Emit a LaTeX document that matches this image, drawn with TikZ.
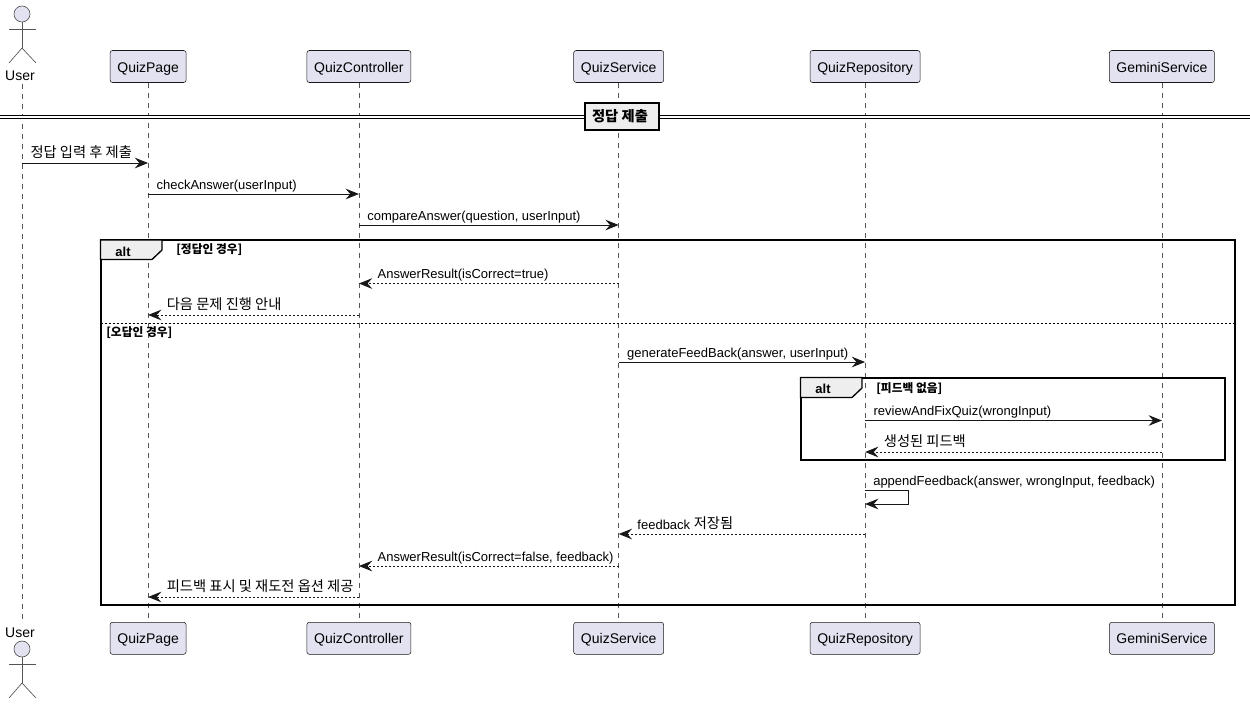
\documentclass[tikz,border=0pt]{standalone}
\usepackage{fontspec}
\setmainfont{Liberation Sans}
\newfontfamily\kr{Noto Sans CJK KR}
\newcommand{\krt}[1]{\raisebox{0.4pt}{\kr\fontsize{10.7}{12}\selectfont #1}}
\usetikzlibrary{arrows.meta,positioning}
\definecolor{partfill}{HTML}{E2E2F0}
\definecolor{partline}{HTML}{181818}
\definecolor{tabfill}{HTML}{EEEEEE}
\definecolor{lifecol}{HTML}{555555}
\tikzset{
participant/.style={
    rectangle,
    draw=partline,
    fill=partfill,
    rounded corners=1.8pt,
    line width=0.4pt,
    minimum height=24pt,
    inner sep=0pt,
    text height=8.4pt,
    text depth=0pt,
    font=\fontsize{10.5}{12}\selectfont
},
actorlabel/.style={
    inner sep=0pt,
    font=\fontsize{10.5}{12}\selectfont
},
actorline/.style={
    draw=lifecol,
    line width=0.5pt
},
lifeline/.style={
    draw=lifecol,
    line width=0.4pt,
    dash pattern=on 3.75pt off 3.75pt
},
msg/.style={
    draw=partline,
    line width=0.75pt,
    -{Stealth[length=10pt,width=8pt,inset=3.5pt]}
},
reply/.style={
    msg,
    dash pattern=on 1.5pt off 1.5pt
},
fwdtext/.style={
    pos=0,
    anchor=base west,
    inner sep=0pt,
    xshift=6pt,
    yshift=3.6pt,
    font=\fontsize{9.75}{12}\selectfont
},
backtext/.style={
    fwdtext,
    pos=1,
    xshift=7.7pt
},
frameline/.style={
    draw=black,
    line width=1.5pt
},
frametab/.style={
    draw=black,
    fill=tabfill,
    line width=1pt
},
altlabel/.style={
    inner sep=0pt,
    font=\bfseries\fontsize{9.75}{12}\selectfont
},
guard/.style={
    anchor=west,
    inner sep=0pt,
    font=\kr\bfseries\fontsize{8.8}{10}\selectfont
},
divider/.style={
    rectangle,
    draw=black,
    fill=tabfill,
    line width=1.5pt,
    minimum width=55pt,
    minimum height=20pt,
    inner sep=0pt,
    font=\kr\bfseries\fontsize{10.7}{12}\selectfont
}
}

\begin{document}
\begin{tikzpicture}[x=0.75pt,y=-0.75pt]
\useasboundingbox (0,0) rectangle (1250,704);

% participants, top and bottom
\node [actorlabel] (userTop) at (20,75.7) {User};
\node [actorlabel] (userBot) at (20,632.7) {User};
\node [participant,minimum width=57pt] (pageTop) at (148.1,66.5) {QuizPage};
\node [participant,minimum width=78pt] (ctrlTop) at (358.9,66.5) {QuizController};
\node [participant,minimum width=67.5pt] (svcTop) at (618.7,66.5) {QuizService};
\node [participant,minimum width=82.5pt] (repoTop) at (865.1,66.5) {QuizRepository};
\node [participant,minimum width=78.75pt] (gemTop) at (1161.9,66.5) {GeminiService};
\node [participant,minimum width=57pt] (pageBot) at (148.1,638.3) {QuizPage};
\node [participant,minimum width=78pt] (ctrlBot) at (358.9,638.3) {QuizController};
\node [participant,minimum width=67.5pt] (svcBot) at (618.7,638.3) {QuizService};
\node [participant,minimum width=82.5pt] (repoBot) at (865.1,638.3) {QuizRepository};
\node [participant,minimum width=78.75pt] (gemBot) at (1161.9,638.3) {GeminiService};
\coordinate (userHead) at (22,84);
\coordinate (userFoot) at (22,622);

% actors
\foreach \hy in {14,649}{
    \draw [actorline,fill=partfill] (22,\hy) circle [radius=8];
    \draw [actorline] (22,\hy+8) -- (22,\hy+34) (9,\hy+15) -- (36,\hy+15);
    \draw [actorline] (9,\hy+49) -- (22,\hy+34) -- (36,\hy+49);
}

% lifelines
\path [lifeline] (userHead) edge (userFoot);
\path [lifeline] (pageTop) edge (pageBot);
\path [lifeline] (ctrlTop) edge (ctrlBot);
\path [lifeline] (svcTop) edge (svcBot);
\path [lifeline] (repoTop) edge (repoBot);
\path [lifeline] (gemTop) edge (gemBot);

% divider
\coordinate (sepL) at (0,116.5);
\coordinate (sepR) at (1250,116.5);
\draw [black,line width=0.75pt,double distance=1.5pt] (sepL) -- (sepR);
\node [divider] (sepBox) at (622,116.5) {\hspace*{-3pt}정답 제출};

% outer alt
\draw [frameline] (100.5,240) rectangle (1234.5,605);
\draw [frametab] (100.5,240) -- (162,240) -- (162,250) -- (152,259.5) -- (100.5,259.5) -- cycle;
\node [altlabel] (altOuter) at (123,251.5) {alt};
\node [guard] (guardOk) at (176,250) {[정답인 경우]};
\coordinate (elseL) at (100.5,323);
\coordinate (elseR) at (1234.5,323);
\draw [black,line width=0.6pt,dash pattern=on 1.5pt off 1.5pt] (elseL) -- (elseR);
\node [guard] (guardNo) at (106,333) {[오답인 경우]};

% inner alt
\draw [frameline] (800.5,377.5) rectangle (1225,460);
\draw [frametab] (800.5,377.5) -- (862,377.5) -- (862,388) -- (852,397.5) -- (800.5,397.5) -- cycle;
\node [altlabel] (altInner) at (823,389) {alt};
\node [guard] (guardFb) at (876,389) {[피드백 없음]};

% messages
\coordinate (y1) at (0,163);
\coordinate (y2) at (0,194);
\coordinate (y3) at (0,225);
\coordinate (y4) at (0,283.5);
\coordinate (y5) at (0,315);
\coordinate (y6) at (0,362);
\coordinate (y7) at (0,420.5);
\coordinate (y8) at (0,452);
\coordinate (y9) at (0,534);
\coordinate (y10) at (0,566);
\coordinate (y11) at (0,597);

\draw [msg] (userHead |- y1) -- (pageTop |- y1) node [fwdtext] (m1) {\krt{정답 입력 후 제출}};
\draw [msg] (pageTop |- y2) -- (ctrlTop |- y2) node [fwdtext] (m2) {checkAnswer(userInput)};
\draw [msg] (ctrlTop |- y3) -- (svcTop |- y3) node [fwdtext] (m3) {compareAnswer(question, userInput)};
\draw [reply] (svcTop |- y4) -- (ctrlTop |- y4) node [backtext] (m4) {AnswerResult(isCorrect=true)};
\draw [reply] (ctrlTop |- y5) -- (pageTop |- y5) node [backtext] (m5) {\krt{다음 문제 진행 안내}};
\draw [msg] (svcTop |- y6) -- (repoTop |- y6) node [fwdtext] (m6) {generateFeedBack(answer, userInput)};
\draw [msg] (repoTop |- y7) -- (gemTop |- y7) node [fwdtext] (m7) {reviewAndFixQuiz(wrongInput)};
\draw [reply] (gemTop |- y8) -- (repoTop |- y8) node [backtext] (m8) {\krt{생성된 피드백}};

% self call
\coordinate (selfA) at (908,490);
\coordinate (selfB) at (908,504);
\draw [msg] (repoTop |- selfA) -- (selfA) -- (selfB) -- (repoTop |- selfB);
\node [anchor=base west,inner sep=0pt,font=\fontsize{9.75}{12}\selectfont] (m9) at (873,485.5) {appendFeedback(answer, wrongInput, feedback)};

\draw [reply] (repoTop |- y9) -- (svcTop |- y9) node [backtext] (m10) {feedback \krt{저장됨}};
\draw [reply] (svcTop |- y10) -- (ctrlTop |- y10) node [backtext] (m11) {AnswerResult(isCorrect=false, feedback)};
\draw [reply] (ctrlTop |- y11) -- (pageTop |- y11) node [backtext] (m12) {\krt{피드백 표시 및 재도전 옵션 제공}};

\end{tikzpicture}
\end{document}
